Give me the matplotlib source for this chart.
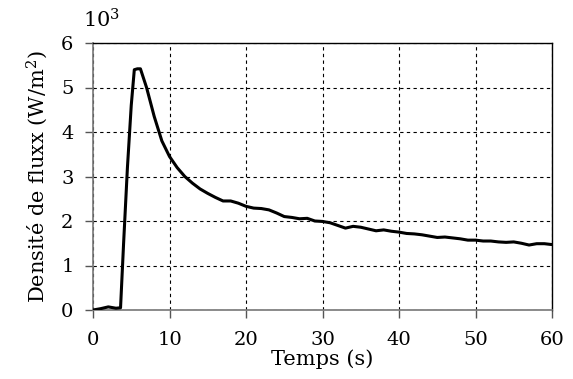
import matplotlib
matplotlib.use("Agg")
import matplotlib.pyplot as plt

t = [0, 1, 2, 3, 3.6, 4.0, 4.5, 5.0, 5.4, 5.8, 6.2, 7, 8, 9, 10, 11, 12, 13, 14, 15, 16, 17, 18, 19, 20,
     21, 22, 23, 24, 25, 26, 27, 28, 29, 30, 31, 32, 33, 34, 35, 36, 37, 38, 39, 40,
     41, 42, 43, 44, 45, 46, 47, 48, 49, 50, 51, 52, 53, 54, 55, 56, 57, 58, 59, 60]
flux = [0.0, 0.03, 0.07, 0.04, 0.05, 1.5, 3.2, 4.6, 5.4, 5.42, 5.42, 5.0, 4.35, 3.8, 3.45, 3.2, 3.0, 2.85, 2.72, 2.62, 2.53, 2.45, 2.45, 2.4, 2.33,
        2.29, 2.28, 2.25, 2.18, 2.1, 2.08, 2.05, 2.06, 2.0, 1.99, 1.96, 1.9, 1.84, 1.88, 1.86, 1.82, 1.78, 1.8, 1.77, 1.75,
        1.72, 1.71, 1.69, 1.66, 1.63, 1.64, 1.62, 1.6, 1.57, 1.57, 1.55, 1.55, 1.53, 1.52, 1.53, 1.5, 1.46, 1.49, 1.49, 1.47]

xticks = [0, 10, 20, 30, 40, 50, 60]
yticks = [0, 1, 2, 3, 4, 5, 6]

plt.rcParams['font.family'] = ['DejaVu Serif']
plt.rcParams['mathtext.fontset'] = 'dejavuserif'

fig = plt.figure(figsize=(5.73, 3.79), dpi=100)
ax = fig.add_axes([93/573, 1 - 310/379, 459/573, 267/379])
ax.plot(t, flux, color='black', lw=2.2, zorder=3)
ax.set_xlim(0, 60)
ax.set_ylim(0, 6)
ax.set_xticks(xticks)
ax.set_yticks(yticks)
ax.grid(True, color='black', linestyle=(0, (3, 3)), lw=0.8)
for s in ['top', 'right']:
    ax.spines[s].set_color('black')
    ax.spines[s].set_linewidth(1.0)
for s in ['left', 'bottom']:
    ax.spines[s].set_color('#777777')
    ax.spines[s].set_linewidth(1.2)
ax.tick_params(axis='both', labelsize=14, length=6, direction='out', width=1.0, colors='#555555', labelcolor='black')
ax.tick_params(axis='x', pad=9)
ax.tick_params(axis='y', pad=8)
ax.set_xlabel('Temps (s)', fontsize=15, labelpad=0)
ax.set_ylabel('Densité de fluxx (W/m$^2$)', fontsize=15, labelpad=8)
fig.text(83/573, 1 - 20/379, r'10$^3$', fontsize=15, va='center', ha='left')
fig.savefig('out.png', dpi=100)
